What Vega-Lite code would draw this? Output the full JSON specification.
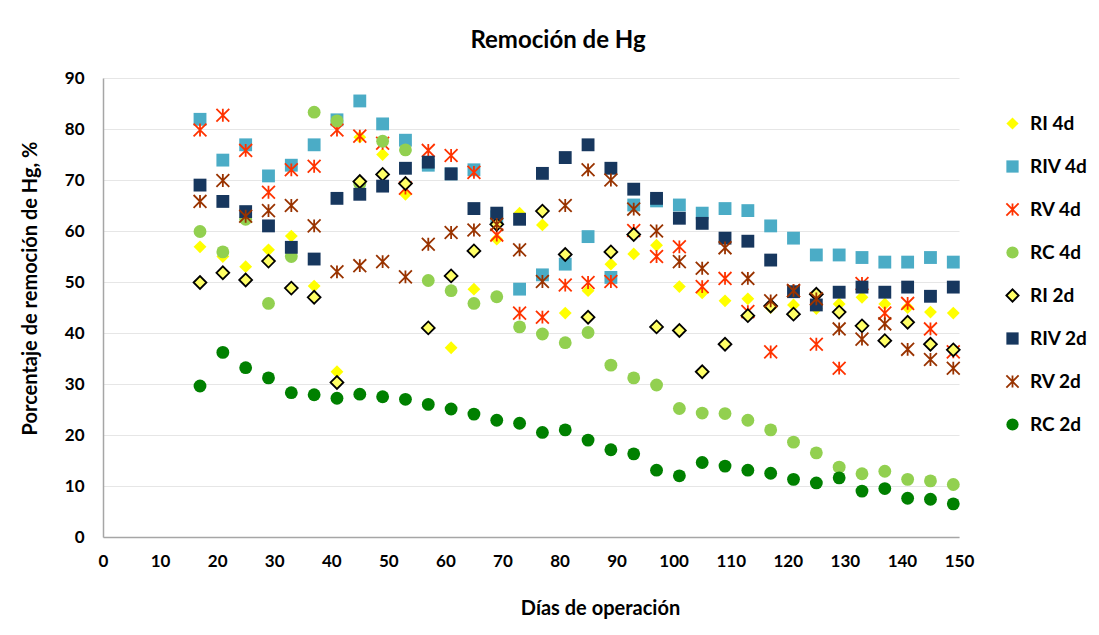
{
  "$schema": "https://vega.github.io/schema/vega-lite/v6.json",
  "width": 856,
  "height": 459,
  "autosize": {"type": "none"},
  "padding": {"left": 103, "top": 78, "right": 140, "bottom": 98},
  "background": "white",
  "title": {
    "text": "Remoción de Hg",
    "font": "Lato",
    "fontSize": 24,
    "fontWeight": "bold",
    "color": "#000000",
    "anchor": "middle",
    "frame": "group",
    "dx": 27,
    "offset": 4,
    "baseline": "middle"
  },
  "data": {
    "values": [
      {"d": 17, "RI 4d": 56.9, "RIV 4d": 81.9, "RV 4d": 79.8, "RC 4d": 59.9, "RI 2d": 49.9, "RIV 2d": 69.0, "RV 2d": 65.8, "RC 2d": 29.6},
      {"d": 21, "RI 4d": 55.0, "RIV 4d": 73.9, "RV 4d": 82.7, "RC 4d": 55.9, "RI 2d": 51.8, "RIV 2d": 65.8, "RV 2d": 69.9, "RC 2d": 36.2},
      {"d": 25, "RI 4d": 53.0, "RIV 4d": 76.9, "RV 4d": 75.8, "RC 4d": 62.3, "RI 2d": 50.4, "RIV 2d": 63.8, "RV 2d": 62.9, "RC 2d": 33.2},
      {"d": 29, "RI 4d": 56.3, "RIV 4d": 70.8, "RV 4d": 67.6, "RC 4d": 45.8, "RI 2d": 54.1, "RIV 2d": 61.0, "RV 2d": 64.0, "RC 2d": 31.2},
      {"d": 33, "RI 4d": 59.0, "RIV 4d": 72.9, "RV 4d": 72.0, "RC 4d": 55.0, "RI 2d": 48.8, "RIV 2d": 56.8, "RV 2d": 65.0, "RC 2d": 28.3},
      {"d": 37, "RI 4d": 49.2, "RIV 4d": 76.9, "RV 4d": 72.7, "RC 4d": 83.3, "RI 2d": 47.0, "RIV 2d": 54.5, "RV 2d": 61.0, "RC 2d": 27.9},
      {"d": 41, "RI 4d": 32.4, "RIV 4d": 81.8, "RV 4d": 79.8, "RC 4d": 81.6, "RI 2d": 30.3, "RIV 2d": 66.4, "RV 2d": 52.0, "RC 2d": 27.2},
      {"d": 45, "RI 4d": 78.4, "RIV 4d": 85.5, "RV 4d": 78.6, "RC 4d": 69.2, "RI 2d": 69.7, "RIV 2d": 67.2, "RV 2d": 53.2, "RC 2d": 28.0},
      {"d": 49, "RI 4d": 75.0, "RIV 4d": 81.0, "RV 4d": 77.2, "RC 4d": 77.6, "RI 2d": 71.1, "RIV 2d": 68.8, "RV 2d": 54.0, "RC 2d": 27.5},
      {"d": 53, "RI 4d": 67.2, "RIV 4d": 77.8, "RV 4d": 68.4, "RC 4d": 75.9, "RI 2d": 69.3, "RIV 2d": 72.3, "RV 2d": 51.0, "RC 2d": 27.0},
      {"d": 57, "RI 4d": null, "RIV 4d": 72.9, "RV 4d": 75.8, "RC 4d": 50.3, "RI 2d": 41.0, "RIV 2d": 73.5, "RV 2d": 57.4, "RC 2d": 26.0},
      {"d": 61, "RI 4d": 37.1, "RIV 4d": 71.2, "RV 4d": 74.8, "RC 4d": 48.3, "RI 2d": 51.2, "RIV 2d": 71.2, "RV 2d": 59.7, "RC 2d": 25.1},
      {"d": 65, "RI 4d": 48.6, "RIV 4d": 72.0, "RV 4d": 71.5, "RC 4d": 45.8, "RI 2d": 56.1, "RIV 2d": 64.4, "RV 2d": 60.2, "RC 2d": 24.1},
      {"d": 69, "RI 4d": 58.4, "RIV 4d": 62.8, "RV 4d": 59.2, "RC 4d": 47.1, "RI 2d": 61.3, "RIV 2d": 63.5, "RV 2d": 61.3, "RC 2d": 22.9},
      {"d": 73, "RI 4d": 63.5, "RIV 4d": 48.6, "RV 4d": 43.9, "RC 4d": 41.2, "RI 2d": null, "RIV 2d": 62.3, "RV 2d": 56.3, "RC 2d": 22.3},
      {"d": 77, "RI 4d": 61.2, "RIV 4d": 51.4, "RV 4d": 43.1, "RC 4d": 39.8, "RI 2d": 63.9, "RIV 2d": 71.3, "RV 2d": 50.1, "RC 2d": 20.5},
      {"d": 81, "RI 4d": 43.9, "RIV 4d": 53.5, "RV 4d": 49.4, "RC 4d": 38.1, "RI 2d": 55.4, "RIV 2d": 74.4, "RV 2d": 65.0, "RC 2d": 21.0},
      {"d": 85, "RI 4d": 48.3, "RIV 4d": 58.9, "RV 4d": 49.9, "RC 4d": 40.1, "RI 2d": 43.1, "RIV 2d": 76.9, "RV 2d": 72.0, "RC 2d": 19.0},
      {"d": 89, "RI 4d": 53.5, "RIV 4d": 50.9, "RV 4d": 50.1, "RC 4d": 33.7, "RI 2d": 55.9, "RIV 2d": 72.3, "RV 2d": 70.0, "RC 2d": 17.1},
      {"d": 93, "RI 4d": 55.5, "RIV 4d": 65.1, "RV 4d": 60.1, "RC 4d": 31.2, "RI 2d": 59.3, "RIV 2d": 68.2, "RV 2d": 64.3, "RC 2d": 16.3},
      {"d": 97, "RI 4d": 57.2, "RIV 4d": 65.9, "RV 4d": 55.0, "RC 4d": 29.8, "RI 2d": 41.2, "RIV 2d": 66.4, "RV 2d": 60.0, "RC 2d": 13.1},
      {"d": 101, "RI 4d": 49.1, "RIV 4d": 65.1, "RV 4d": 56.9, "RC 4d": 25.2, "RI 2d": 40.5, "RIV 2d": 62.5, "RV 2d": 54.0, "RC 2d": 12.0},
      {"d": 105, "RI 4d": 47.9, "RIV 4d": 63.5, "RV 4d": 49.1, "RC 4d": 24.3, "RI 2d": 32.4, "RIV 2d": 61.5, "RV 2d": 52.7, "RC 2d": 14.6},
      {"d": 109, "RI 4d": 46.3, "RIV 4d": 64.4, "RV 4d": 50.7, "RC 4d": 24.2, "RI 2d": 37.8, "RIV 2d": 58.6, "RV 2d": 56.7, "RC 2d": 13.9},
      {"d": 113, "RI 4d": 46.7, "RIV 4d": 64.0, "RV 4d": 44.2, "RC 4d": 22.9, "RI 2d": 43.4, "RIV 2d": 58.0, "RV 2d": 50.7, "RC 2d": 13.1},
      {"d": 117, "RI 4d": 45.0, "RIV 4d": 61.0, "RV 4d": 36.3, "RC 4d": 21.0, "RI 2d": 45.3, "RIV 2d": 54.3, "RV 2d": 46.3, "RC 2d": 12.5},
      {"d": 121, "RI 4d": 45.5, "RIV 4d": 58.6, "RV 4d": 48.3, "RC 4d": 18.6, "RI 2d": 43.7, "RIV 2d": 48.1, "RV 2d": 48.3, "RC 2d": 11.3},
      {"d": 125, "RI 4d": 44.8, "RIV 4d": 55.3, "RV 4d": 37.8, "RC 4d": 16.5, "RI 2d": 47.6, "RIV 2d": 45.5, "RV 2d": 46.7, "RC 2d": 10.6},
      {"d": 129, "RI 4d": 45.7, "RIV 4d": 55.3, "RV 4d": 33.1, "RC 4d": 13.7, "RI 2d": 44.1, "RIV 2d": 48.0, "RV 2d": 40.8, "RC 2d": 11.6},
      {"d": 133, "RI 4d": 47.0, "RIV 4d": 54.8, "RV 4d": 49.7, "RC 4d": 12.4, "RI 2d": 41.4, "RIV 2d": 49.0, "RV 2d": 38.8, "RC 2d": 9.0},
      {"d": 137, "RI 4d": 45.7, "RIV 4d": 53.9, "RV 4d": 43.9, "RC 4d": 12.9, "RI 2d": 38.5, "RIV 2d": 48.0, "RV 2d": 41.8, "RC 2d": 9.5},
      {"d": 141, "RI 4d": 45.0, "RIV 4d": 53.9, "RV 4d": 45.8, "RC 4d": 11.3, "RI 2d": 42.1, "RIV 2d": 49.0, "RV 2d": 36.8, "RC 2d": 7.6},
      {"d": 145, "RI 4d": 44.1, "RIV 4d": 54.8, "RV 4d": 40.8, "RC 4d": 11.0, "RI 2d": 37.8, "RIV 2d": 47.2, "RV 2d": 34.8, "RC 2d": 7.4},
      {"d": 149, "RI 4d": 43.9, "RIV 4d": 53.9, "RV 4d": 36.3, "RC 4d": 10.3, "RI 2d": 36.7, "RIV 2d": 49.0, "RV 2d": 33.1, "RC 2d": 6.5}
    ]
  },
  "transform": [
    {"fold": ["RI 4d", "RIV 4d", "RV 4d", "RC 4d", "RI 2d", "RIV 2d", "RV 2d", "RC 2d"], "as": ["s", "v"]},
    {"filter": "datum.v != null"}
  ],
  "mark": {"type": "point", "filled": true, "size": 165, "strokeWidth": 1.8, "opacity": 1},
  "encoding": {
    "x": {
      "field": "d", "type": "quantitative",
      "scale": {"domain": [0, 150], "nice": false},
      "axis": {
        "values": [0, 10, 20, 30, 40, 50, 60, 70, 80, 90, 100, 110, 120, 130, 140, 150],
        "title": "Días de operación",
        "grid": false,
        "ticks": false,
        "labelFlush": false,
        "labelPadding": 16,
        "titleX": 497,
        "titleY": 71,
        "titleBaseline": "middle",
        "titleAnchor": "middle"
      }
    },
    "y": {
      "field": "v", "type": "quantitative",
      "scale": {"domain": [0, 90], "nice": false},
      "axis": {
        "values": [0, 10, 20, 30, 40, 50, 60, 70, 80, 90],
        "title": "Porcentaje de remoción de Hg, %",
        "grid": true,
        "ticks": false,
        "labelFlush": false,
        "labelPadding": 19,
        "titleX": -73,
        "titleY": 210,
        "titleBaseline": "middle",
        "titleAnchor": "middle"
      }
    },
    "fill": {
      "field": "s", "type": "nominal",
      "scale": {
        "domain": ["RI 4d", "RIV 4d", "RV 4d", "RC 4d", "RI 2d", "RIV 2d", "RV 2d", "RC 2d"],
        "range": ["#FFFF00", "#4BACC6", "transparent", "#92D050", "#FFFF66", "#17375E", "transparent", "#008000"]
      },
      "legend": {"title": null}
    },
    "stroke": {
      "field": "s", "type": "nominal",
      "scale": {
        "domain": ["RI 4d", "RIV 4d", "RV 4d", "RC 4d", "RI 2d", "RIV 2d", "RV 2d", "RC 2d"],
        "range": ["transparent", "transparent", "#FF3300", "transparent", "#000000", "transparent", "#993300", "transparent"]
      },
      "legend": {"title": null}
    },
    "shape": {
      "field": "s", "type": "nominal",
      "scale": {
        "domain": ["RI 4d", "RIV 4d", "RV 4d", "RC 4d", "RI 2d", "RIV 2d", "RV 2d", "RC 2d"],
        "range": ["diamond", "square", "M-1,-1L1,1M-1,1L1,-1M0,-1L0,1", "circle", "diamond", "square", "M-1,-1L1,1M-1,1L1,-1M0,-1L0,1", "circle"]
      },
      "legend": {"title": null}
    }
  },
  "config": {
    "view": {"stroke": null},
    "font": "Lato",
    "axis": {
      "labelFont": "Lato",
      "labelFontSize": 17,
      "labelFontWeight": "bold",
      "labelColor": "#000000",
      "titleFont": "Lato",
      "titleFontSize": 20,
      "titleFontWeight": "bold",
      "titleColor": "#000000",
      "domainColor": "#A6A6A6",
      "domainWidth": 1.5,
      "gridColor": "#E6E6E6",
      "gridWidth": 1.2
    },
    "legend": {
      "orient": "none",
      "legendX": 900,
      "legendY": 36,
      "labelFont": "Lato",
      "labelFontSize": 19,
      "labelFontWeight": "bold",
      "labelColor": "#000000",
      "symbolSize": 150,
      "symbolStrokeWidth": 1.8,
      "rowPadding": 22,
      "labelOffset": 8
    }
  }
}
